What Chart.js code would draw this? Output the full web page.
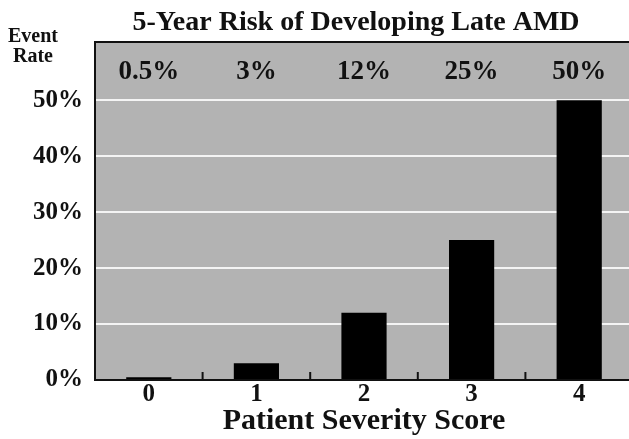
<!DOCTYPE html>
<html>
<head>
<meta charset="utf-8">
<script src="https://cdn.jsdelivr.net/npm/chart.js@4.4.1/dist/chart.umd.min.js"></script>
<style>
  body { margin: 0; background: #fff; overflow: hidden; }
  #wrap { width: 640px; height: 439px; }
</style>
</head>
<body>
<div id="wrap"><canvas id="mycanvas"></canvas></div>
<script>
// chart data
var scores = ['0', '1', '2', '3', '4'];
var eventRates = [0.5, 3, 12, 25, 50];
var rateLabels = ['0.5%', '3%', '12%', '25%', '50%'];
var yTicks = [0, 10, 20, 30, 40, 50];

var serif = '"Liberation Serif", "Times New Roman", serif';

var decorPlugin = {
	id: 'decor',
	beforeDraw: function(chart) {
		var ctx = chart.ctx, a = chart.chartArea;
		ctx.save();
		ctx.fillStyle = '#b3b3b3';
		ctx.fillRect(a.left, a.top, a.right - a.left, a.bottom - a.top);
		ctx.restore();
	},
	afterDatasetsDraw: function(chart) {
		var ctx = chart.ctx, a = chart.chartArea;
		var xs = chart.scales.x, ys = chart.scales.y;
		ctx.save();
		// top frame line
		ctx.strokeStyle = '#111';
		ctx.lineWidth = 2;
		ctx.beginPath();
		ctx.moveTo(a.left - 1, a.top);
		ctx.lineTo(a.right, a.top);
		ctx.stroke();
		// small tick marks between categories
		for (var i = 0; i < scores.length - 1; i++) {
			var x = (xs.getPixelForValue(i) + xs.getPixelForValue(i + 1)) / 2;
			ctx.beginPath();
			ctx.moveTo(x, a.bottom);
			ctx.lineTo(x, a.bottom - 8);
			ctx.stroke();
		}
		// rate labels above the bars
		ctx.fillStyle = '#111';
		ctx.font = 'bold 27px ' + serif;
		ctx.textAlign = 'center';
		ctx.textBaseline = 'middle';
		for (var j = 0; j < rateLabels.length; j++) {
			ctx.fillText(rateLabels[j], xs.getPixelForValue(j), ys.getPixelForValue(55));
		}
		// title and y caption
		ctx.font = 'bold 28px ' + serif;
		ctx.textBaseline = 'alphabetic';
		ctx.fillText('5-Year Risk of Developing Late AMD', 356, 30);
		ctx.font = 'bold 20px ' + serif;
		ctx.fillText('Event', 33, 42);
		ctx.fillText('Rate', 33, 62);
		ctx.restore();
	}
};

var chartdata = {
	labels: scores,
	datasets: [
		{
			label: 'Event rate',
			backgroundColor: '#000',
			borderColor: '#000',
			data: eventRates,
			barPercentage: 0.42,
			categoryPercentage: 1
		}
	]
};

var ctx = document.getElementById('mycanvas');

var barGraph = new Chart(ctx, {
	type: 'bar',
	data: chartdata,
	plugins: [decorPlugin],
	options: {
		responsive: true,
		maintainAspectRatio: false,
		animation: false,
		layout: { padding: { top: 42, right: 7, left: 0, bottom: 0 } },
		plugins: {
			legend: { display: false },
			tooltip: { enabled: false }
		},
		scales: {
			x: {
				grid: { display: false },
				border: { display: true, color: '#111', width: 2 },
				ticks: { color: '#111', font: { family: serif, size: 25, weight: 'bold' }, padding: -8 },
				title: {
					display: true,
					text: 'Patient Severity Score',
					color: '#111',
					font: { family: serif, size: 30, weight: 'bold' },
					padding: { top: 0, bottom: 0 }
				},
				afterFit: function(scale) { scale.height = 59; }
			},
			y: {
				min: 0,
				max: 60.4,
				afterBuildTicks: function(scale) {
					scale.ticks = yTicks.map(function(v) { return { value: v }; });
				},
				grid: {
					drawTicks: false,
					lineWidth: 2,
					color: function(c) { return c.tick && c.tick.value > 0 ? '#f4f4f4' : 'rgba(0,0,0,0)'; }
				},
				border: { display: true, color: '#111', width: 2 },
				ticks: {
					color: '#111',
					padding: 12,
					font: { family: serif, size: 25, weight: 'bold' },
					callback: function(v) { return v + '%'; }
				},
				afterFit: function(scale) { scale.width = 95; }
			}
		}
	}
});
</script>
</body>
</html>
